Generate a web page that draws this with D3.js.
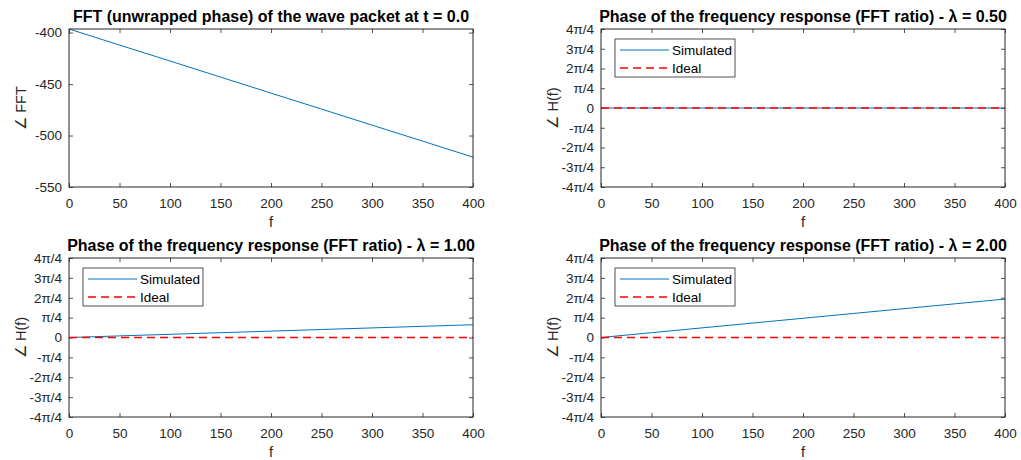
<!DOCTYPE html>
<html>
<head>
<meta charset="utf-8">
<script src="https://cdn.jsdelivr.net/npm/d3@7"></script>
<style>
  html, body { margin: 0; padding: 0; background: #fff; }
  svg { display: block; font-family: "Liberation Sans", Arial, Helvetica, sans-serif; }
</style>
</head>
<body>
<svg id="chart" width="1021" height="460"></svg>
<script>
// Frequency samples (Hz)
const freq = [0, 50, 100, 150, 200, 250, 300, 350, 400];

// Unwrapped FFT phase of the wave packet at t = 0.0
const fftPhase = [-396.5, -412.1, -427.6, -443.2, -458.8, -474.3, -489.9, -505.4, -521.0];

// Phase of the frequency response (FFT ratio), simulated, per lambda
const simLambda050 = [0, 0, 0, 0, 0, 0, 0, 0, 0];
const simLambda100 = [0, 0.063, 0.126, 0.19, 0.252, 0.316, 0.379, 0.442, 0.505];
const simLambda200 = [0, 0.19, 0.38, 0.57, 0.76, 0.95, 1.14, 1.33, 1.52];

// Ideal phase response (zero phase)
const idealPhase = [0, 0, 0, 0, 0, 0, 0, 0, 0];

// Tick values / labels
const xTicks = [0, 50, 100, 150, 200, 250, 300, 350, 400];
const fftTicks = [-550, -500, -450, -400];
const piTickLabels = ["-4π/4", "-3π/4", "-2π/4", "-π/4", "0", "π/4", "2π/4", "3π/4", "4π/4"];
const piTickValues = [-4, -3, -2, -1, 0, 1, 2, 3, 4].map(k => k * Math.PI / 4);

const svg = d3.select("#chart");
const AX = "#262626";
const BLUE = "#0072BD";
const RED = "#FF0000";

function panel(opt) {
  const { left, right, top, bottom } = opt.box;
  const x = d3.scaleLinear().domain([0, 400]).range([left, right]);
  const y = d3.scaleLinear().domain(opt.yDomain).range([bottom, top]);
  const g = svg.append("g");

  // inward ticks on all four sides
  const tl = 4;
  const axB = d3.axisBottom(x).tickValues(xTicks).tickSizeInner(-tl).tickSizeOuter(0).tickPadding(11);
  const axT = d3.axisTop(x).tickValues(xTicks).tickSizeInner(-tl).tickSizeOuter(0).tickFormat("");
  const axL = d3.axisLeft(y).tickValues(opt.yTicks).tickSizeInner(-tl).tickSizeOuter(0).tickPadding(7)
    .tickFormat(opt.yFormat);
  const axR = d3.axisRight(y).tickValues(opt.yTicks).tickSizeInner(-tl).tickSizeOuter(0).tickFormat("");

  const styleAxis = sel => {
    sel.select(".domain").remove();
    sel.selectAll("line").attr("stroke", AX).attr("stroke-width", 0.8);
    sel.selectAll("text").attr("fill", AX).attr("font-size", "13.5px").attr("font-family", null);
  };
  g.append("g").attr("transform", `translate(0,${bottom})`).call(axB).call(styleAxis);
  g.append("g").attr("transform", `translate(0,${top})`).call(axT).call(styleAxis);
  g.append("g").attr("transform", `translate(${left},0)`).call(axL).call(styleAxis);
  g.append("g").attr("transform", `translate(${right},0)`).call(axR).call(styleAxis);

  const line = d3.line().x((d, i) => x(freq[i])).y(d => y(d));

  opt.series.forEach(s => {
    g.append("path")
      .datum(s.values)
      .attr("fill", "none")
      .attr("stroke", s.color)
      .attr("stroke-width", s.dash ? 1.5 : 1)
      .attr("stroke-dasharray", s.dash || null)
      .attr("d", line);
  });

  // axes box
  g.append("rect")
    .attr("x", left).attr("y", top)
    .attr("width", right - left).attr("height", bottom - top)
    .attr("fill", "none").attr("stroke", AX).attr("stroke-width", 1);

  // title
  g.append("text")
    .attr("x", (left + right) / 2).attr("y", top - 7)
    .attr("text-anchor", "middle")
    .attr("font-weight", "bold").attr("font-size", "16px").attr("fill", "#000")
    .text(opt.title);

  // x label
  g.append("text")
    .attr("x", (left + right) / 2).attr("y", bottom + 40)
    .attr("text-anchor", "middle").attr("font-size", "14.5px").attr("fill", AX)
    .text("f");

  // y label
  g.append("text")
    .attr("transform", `translate(${opt.yLabelX},${(top + bottom) / 2}) rotate(-90)`)
    .attr("text-anchor", "middle").attr("font-size", "14.5px").attr("fill", AX)
    .text(opt.yLabel);

  // legend
  if (opt.legend) {
    const lx = left + 14, ly = top + 10, lw = 120, lh = 38;
    const lg = g.append("g");
    lg.append("rect").attr("x", lx).attr("y", ly).attr("width", lw).attr("height", lh)
      .attr("fill", "#fff").attr("stroke", AX).attr("stroke-width", 0.8);
    opt.series.forEach((s, i) => {
      const yy = ly + 11 + i * 18;
      lg.append("line").attr("x1", lx + 5).attr("x2", lx + 54).attr("y1", yy).attr("y2", yy)
        .attr("stroke", s.color).attr("stroke-width", s.dash ? 1.5 : 1)
        .attr("stroke-dasharray", s.dash || null);
      lg.append("text").attr("x", lx + 57).attr("y", yy + 5)
        .attr("font-size", "13.5px").attr("fill", "#000").text(s.name);
    });
  }
}

const piFmt = (d, i) => piTickLabels[i];
const boxTL = { left: 69, right: 473, top: 29, bottom: 187 };
const boxTR = { left: 601, right: 1005, top: 29, bottom: 187 };
const boxBL = { left: 69, right: 473, top: 258, bottom: 417 };
const boxBR = { left: 601, right: 1005, top: 258, bottom: 417 };

panel({
  box: boxTL, yDomain: [-550, -396.5], yTicks: fftTicks, yFormat: d => String(d),
  title: "FFT (unwrapped phase) of the wave packet at t = 0.0",
  yLabel: "∠ FFT", yLabelX: 26,
  series: [{ name: "FFT", values: fftPhase, color: BLUE }]
});

const responsePanels = [
  { box: boxTR, lam: "0.50", sim: simLambda050, yLabelX: 558 },
  { box: boxBL, lam: "1.00", sim: simLambda100, yLabelX: 26 },
  { box: boxBR, lam: "2.00", sim: simLambda200, yLabelX: 558 }
];
responsePanels.forEach(p => {
  panel({
    box: p.box, yDomain: [-Math.PI, Math.PI], yTicks: piTickValues, yFormat: piFmt,
    title: `Phase of the frequency response (FFT ratio) - λ = ${p.lam}`,
    yLabel: "∠ H(f)", yLabelX: p.yLabelX, legend: true,
    series: [
      { name: "Simulated", values: p.sim, color: BLUE },
      { name: "Ideal", values: idealPhase, color: RED, dash: "8,5" }
    ]
  });
});
</script>
</body>
</html>
